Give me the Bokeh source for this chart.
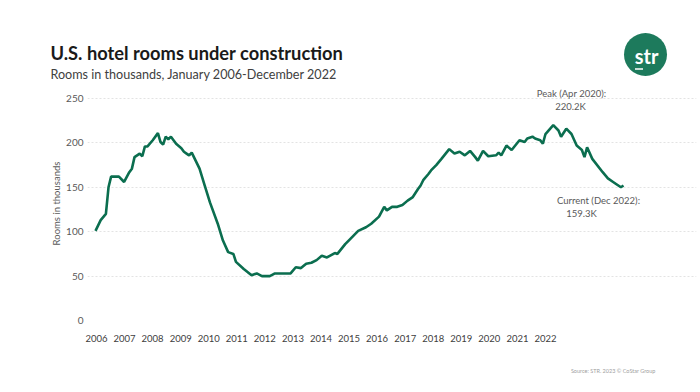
import pandas as pd
from bokeh.plotting import figure
from bokeh.layouts import column
from bokeh.models import ColumnDataSource, Range1d, LinearAxis, FixedTicker, Label
from bokeh.embed import file_html
from bokeh.resources import INLINE

# ---- data ----
months = ["2006-01","2006-03","2006-05","2006-06","2006-07","2006-10","2006-12","2007-02","2007-03","2007-04",
          "2007-06","2007-07","2007-08","2007-09","2007-11","2008-01","2008-02","2008-03","2008-04","2008-05",
          "2008-06","2008-08","2008-10","2008-11","2008-12","2009-01","2009-02","2009-05","2009-07","2009-09",
          "2009-12","2010-02","2010-04","2010-06","2010-07","2010-10","2011-01","2011-03","2011-05","2011-08",
          "2011-10","2011-12","2012-04","2012-06","2012-08","2012-10","2012-12","2013-02","2013-04","2013-06",
          "2013-09","2013-10","2014-01","2014-03","2014-06","2014-09","2014-11","2015-02","2015-04","2015-05",
          "2015-07","2015-09","2015-11","2016-01","2016-03","2016-05","2016-06","2016-07","2016-09","2016-10",
          "2016-12","2017-02","2017-05","2017-07","2017-09","2017-11","2018-01","2018-03","2018-04","2018-06",
          "2018-08","2018-11","2018-12","2019-01","2019-03","2019-05","2019-08","2019-10","2019-11","2020-01",
          "2020-02","2020-04","2020-05","2020-06","2020-09","2020-11","2020-12","2021-02","2021-04","2021-06",
          "2021-08","2021-09","2021-10","2021-12","2022-04","2022-06","2022-08","2022-11","2022-12"]
rooms = [101,113,120,150,162,162,156,167,171,184,
         188,185,196,196,203,211,201,198,207,204,
         207,199,194,190,188,186,189,171,152,133,
         109,90,77,75,66,58,51,53,50,50,
         53,53,53,60,59,64,65,68,73,71,
         76,75,86,92,101,105,109,117,128,124,
         128,128,130,135,139,148,152,158,165,169,
         175,182,193,188,190,186,191,184,180,191,
         185,186,189,186,197,192,203,201,205,207,
         205,203,199,210,220,214,207,216,210,197,
         192,184,195,182,167,160,156,150,152]
year_ticks = list(range(2006, 2023))
y_ticks = [0, 50, 100, 150, 200, 250]

title_text = "U.S. hotel rooms under construction"
subtitle_text = "Rooms in thousands, January 2006-December 2022"
peak_text = ["Peak (Apr 2020):", "220.2K"]
current_text = ["Current (Dec 2022):", "159.3K"]
source_text = "Source: STR. 2023 \u00a9 CoStar Group"
logo_text = "str"

# ---- layout constants (pixels) ----
W = 700
HEAD_H, MAIN_H, FOOT_H = 86, 268, 38
FRAME_L, FRAME_R, FRAME_BOT = 87, 696, 320      # screen pixels of main frame
LINE_X0, PPM = 95, 2.601                         # screen x of first month, px per month
YR_X0, PPY = 96, 28.06                           # screen x of first year label, px per year
Y_PX = 0.888                                     # px per thousand rooms

def common(fig):
    fig.outline_line_color = None
    fig.background_fill_color = "white"
    fig.border_fill_color = "white"
    fig.xgrid.visible = False
    fig.ygrid.visible = False
    fig.frame_align = False

# ---- header ----
head = figure(width=W, height=HEAD_H, output_backend="svg", toolbar_location=None,
              x_axis_location=None, y_axis_location=None,
              x_range=Range1d(0, W), y_range=Range1d(HEAD_H, 0),
              min_border=0, min_border_left=0, min_border_right=0,
              min_border_top=0, min_border_bottom=0)
common(head)
head.add_layout(Label(x=50, y=52, text=title_text, text_font="Lato", text_font_style="bold",
                      text_font_size="18.3px", text_color="#1a1a1a", text_baseline="alphabetic"))
head.add_layout(Label(x=50, y=74, text=subtitle_text, text_font="Lato", text_font_size="12.6px",
                      text_color="#404040", text_baseline="alphabetic"))
head.circle(x=[645], y=[54], radius=21.5, fill_color="#1d7a5c", line_color=None)
head.text(x=[646], y=[55.5], text=[logo_text], text_font={"value": "Lato"}, text_font_style="bold",
          text_font_size="20px", text_color="white", text_align="center", text_baseline="middle")
head.segment(x0=[634.5], y0=[68.5], x1=[642.5], y1=[68.5], line_color="white", line_width=1.5)

# ---- main chart ----
dt = pd.to_datetime(months)
midx = (dt.year - 2006) * 12 + (dt.month - 1)
src = ColumnDataSource(dict(m=list(midx), v=rooms))

top_screen = HEAD_H
main = figure(width=W, height=MAIN_H, output_backend="svg", toolbar_location=None,
              x_axis_location=None,
              x_range=Range1d((FRAME_L - LINE_X0) / PPM, (FRAME_R - LINE_X0) / PPM),
              y_range=Range1d(0, (FRAME_BOT - top_screen) / Y_PX),
              min_border_left=FRAME_L, min_border_right=W - FRAME_R,
              min_border_top=0, min_border_bottom=top_screen + MAIN_H - FRAME_BOT)
common(main)

main.extra_x_ranges = {"yr": Range1d(year_ticks[0] + (FRAME_L - YR_X0) / PPY,
                                     year_ticks[0] + (FRAME_R - YR_X0) / PPY)}
xa = LinearAxis(x_range_name="yr", ticker=FixedTicker(ticks=year_ticks))
xa.axis_line_color = None
xa.major_tick_line_color = None
xa.minor_tick_line_color = None
xa.major_tick_out = 0
xa.major_tick_in = 0
xa.major_label_text_font = "Lato"
xa.major_label_text_font_size = "9.5px"
xa.major_label_text_color = "#404040"
xa.major_label_standoff = 14
main.add_layout(xa, "below")

ya = main.yaxis[0]
ya.ticker = FixedTicker(ticks=y_ticks)
ya.axis_line_color = None
ya.major_tick_line_color = None
ya.minor_tick_line_color = None
ya.major_tick_out = 0
ya.major_tick_in = 0
ya.major_label_text_font = "Lato"
ya.major_label_text_font_size = "10px"
ya.major_label_text_color = "#595959"
ya.major_label_standoff = 4
ya.axis_label = "Rooms in thousands"
ya.axis_label_text_font = "Lato"
ya.axis_label_text_font_style = "normal"
ya.axis_label_text_font_size = "9.5px"
ya.axis_label_text_color = "#595959"
ya.axis_label_standoff = 1

main.ygrid.visible = True
main.ygrid.ticker = FixedTicker(ticks=y_ticks)
main.ygrid.grid_line_color = "#e3e3e3"
main.ygrid.grid_line_dash = "2 2"

main.line(x="m", y="v", source=src, line_width=2.6, line_color="#0b6e4f")

def mx(sx):
    return (sx - LINE_X0) / PPM
def vy(sy):
    return (FRAME_BOT - sy) / Y_PX

ann = dict(text_font="Lato", text_font_size="9.5px", text_color="#595959",
           text_align="center", text_baseline="middle")
main.add_layout(Label(x=mx(571), y=vy(93), text=peak_text[0], **ann))
main.add_layout(Label(x=mx(570), y=vy(106), text=peak_text[1], **ann))
main.add_layout(Label(x=mx(598), y=vy(200), text=current_text[0], **ann))
main.add_layout(Label(x=mx(581), y=vy(213), text=current_text[1], **ann))

# ---- footer ----
foot_top = HEAD_H + MAIN_H
foot = figure(width=W, height=FOOT_H, output_backend="svg", toolbar_location=None,
              x_axis_location=None, y_axis_location=None,
              x_range=Range1d(0, W), y_range=Range1d(foot_top + FOOT_H, foot_top),
              min_border=0, min_border_left=0, min_border_right=0,
              min_border_top=0, min_border_bottom=0)
common(foot)
foot.add_layout(Label(x=655, y=370, text=source_text, text_font="Lato", text_font_size="5.5px",
                      text_color="#a0a0a0", text_align="right", text_baseline="alphabetic"))

open("out.html", "w").write(file_html(column(head, main, foot, spacing=0), INLINE))
